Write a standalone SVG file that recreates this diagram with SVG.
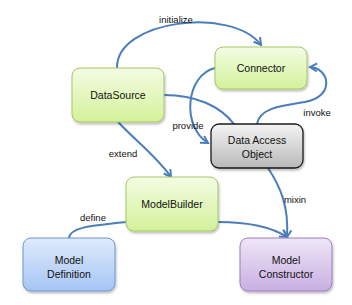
<svg xmlns="http://www.w3.org/2000/svg" width="352" height="305" viewBox="0 0 352 305">
<defs>
<linearGradient id="gGreen" x1="0" y1="0" x2="0" y2="1"><stop offset="0" stop-color="#f4fce4"/><stop offset="1" stop-color="#d3f19a"/></linearGradient>
<linearGradient id="gBlue" x1="0" y1="0" x2="0" y2="1"><stop offset="0" stop-color="#dfeafc"/><stop offset="1" stop-color="#a5c5f4"/></linearGradient>
<linearGradient id="gPurple" x1="0" y1="0" x2="0" y2="1"><stop offset="0" stop-color="#efe6f7"/><stop offset="1" stop-color="#c8afe2"/></linearGradient>
<linearGradient id="gGray" x1="0" y1="0" x2="0" y2="1"><stop offset="0" stop-color="#f4f4f4"/><stop offset="1" stop-color="#b9b9b9"/></linearGradient>
<filter id="sh" x="-10%" y="-10%" width="130%" height="130%"><feDropShadow dx="1" dy="2" stdDeviation="1.2" flood-color="#000" flood-opacity="0.25"/></filter>
<marker id="arr" viewBox="0 0 10 10" refX="8" refY="5" markerWidth="10" markerHeight="10" markerUnits="userSpaceOnUse" orient="auto">
<path d="M1,1 L8,5 L1,9" fill="none" stroke="#4a7ebb" stroke-width="2" stroke-linejoin="miter"/>
</marker>
</defs>
<style>
.n{stroke-width:1;filter:url(#sh)}
.green{fill:url(#gGreen);stroke:#a5c765}
.blue{fill:url(#gBlue);stroke:#6d96d0}
.purple{fill:url(#gPurple);stroke:#9c7cbd}
.gray{fill:url(#gGray);stroke:#1a1a1a;stroke-width:1.3}
.t{font-family:"Liberation Sans",Arial,sans-serif;font-size:10.5px;fill:#111;text-anchor:middle}
.l{font-family:"Liberation Sans",Arial,sans-serif;font-size:9.5px;fill:#111;text-anchor:middle}
.c{fill:none;stroke:#4a7ebb;stroke-width:2}
.a{marker-end:url(#arr)}
</style>
<g id="connectors">
<path class="c a" d="M117,68 C116,20 232,6 261,45"/>
<path class="c a" d="M215,68 C186,75 181,126 208,143"/>
<path class="c" d="M164,95 C196,95 220,106 234,124"/>
<path class="c a" d="M257,124 C260,108 280,106 305,102 C335,97 330,68 310,67"/>
<path class="c a" d="M118,122 C135,140 158,158 171,177"/>
<path class="c a" d="M268,168 C280,186 289,206 287,237"/>
<path class="c a" d="M218,222 C246,222 270,226 287,237"/>
<path class="c" d="M126,222 C100,225 70,226 69,238"/>
<text class="l" x="176" y="23">initialize</text>
<text class="l" x="188" y="129">provide</text>
<text class="l" x="317" y="116">invoke</text>
<text class="l" x="123" y="157">extend</text>
<text class="l" x="295" y="203">mixin</text>
<text class="l" x="93" y="221">define</text>
</g>
<g id="datasource"><rect class="n green" x="72" y="68" width="92" height="54" rx="8"/><text class="t" x="118" y="99">DataSource</text></g>
<g id="connector"><rect class="n green" x="215" y="47" width="92" height="42" rx="8"/><text class="t" x="261" y="72">Connector</text></g>
<g id="dao"><rect class="n gray" x="211" y="124" width="92" height="44" rx="8"/><text class="t" x="257" y="144">Data Access</text><text class="t" x="257" y="158">Object</text></g>
<g id="modelbuilder"><rect class="n green" x="126" y="177" width="92" height="54" rx="8"/><text class="t" x="172" y="208">ModelBuilder</text></g>
<g id="modeldefinition"><rect class="n blue" x="23" y="238" width="92" height="53" rx="8"/><text class="t" x="69" y="264">Model</text><text class="t" x="69" y="278">Definition</text></g>
<g id="modelconstructor"><rect class="n purple" x="240" y="238" width="92" height="53" rx="8"/><text class="t" x="286" y="264">Model</text><text class="t" x="286" y="278">Constructor</text></g>
</svg>
